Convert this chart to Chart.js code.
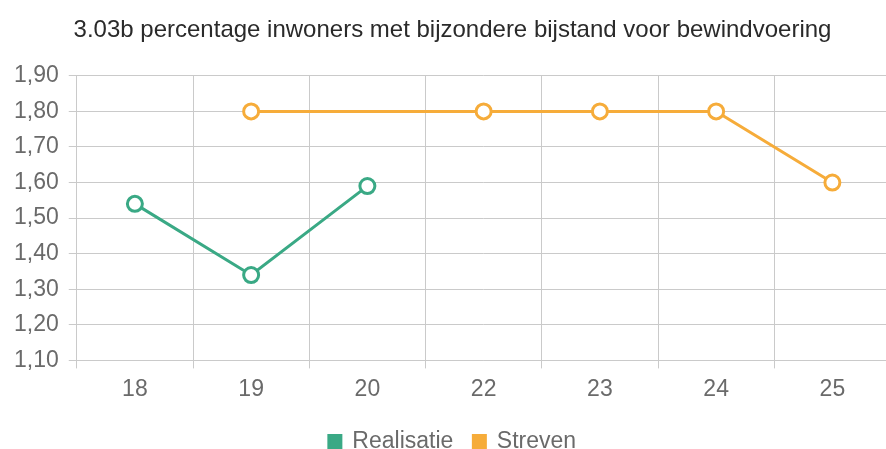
<!DOCTYPE html>
<html>
<head>
<meta charset="utf-8">
<script src="https://cdn.jsdelivr.net/npm/chart.js@4"></script>
<style>
  html, body { margin: 0; padding: 0; background: #fff; overflow: hidden; }
  #wrap { width: 901px; height: 463px; }
</style>
</head>
<body>
<div id="wrap"><canvas id="bijstandChart"></canvas></div>
<script>
/* ===============================
   DATA
================================ */
const years = ["18", "19", "20", "22", "23", "24", "25"];
const realisatie = [1.54, 1.34, 1.59, null, null, null, null];
const streven = [null, 1.80, null, 1.80, 1.80, 1.80, 1.60];
const yTicks = [1.10, 1.20, 1.30, 1.40, 1.50, 1.60, 1.70, 1.80, 1.90];

const GREEN = "#3aa985";
const ORANGE = "#f6ac3a";
const GRID = "#cacaca";

Chart.defaults.font.family = "'Liberation Sans', Arial, sans-serif";

function formatComma(v) {
  return Number(v).toFixed(2).replace(".", ",");
}

function lineDataset(label, data, color, span) {
  return {
    label: label,
    data: data,
    borderColor: color,
    backgroundColor: color,
    pointBackgroundColor: "#fff",
    pointBorderColor: color,
    pointRadius: 7.5,
    pointBorderWidth: 3,
    borderWidth: 3,
    tension: 0,
    spanGaps: span
  };
}

/* ===============================
   CHART
================================ */
const ctx = document.getElementById("bijstandChart").getContext("2d");

new Chart(ctx, {
  type: "line",
  data: {
    labels: years,
    datasets: [
      lineDataset("Realisatie", realisatie, GREEN, false),
      lineDataset("Streven", streven, ORANGE, true)
    ]
  },
  options: {
    responsive: true,
    maintainAspectRatio: false,
    animation: false,
    layout: { padding: { left: 4, right: 0, top: 0, bottom: 0 } },
    plugins: {
      title: {
        display: true,
        text: "3.03b percentage inwoners met bijzondere bijstand voor bewindvoering",
        color: "#2a2a2a",
        font: { size: 24, weight: "normal" },
        padding: { top: 16, bottom: 31 }
      },
      legend: {
        position: "bottom",
        labels: {
          color: "#6a6a6a",
          font: { size: 23 },
          boxWidth: 12,
          boxHeight: 12,
          padding: 20
        }
      },
      tooltip: { enabled: false }
    },
    scales: {
      x: {
        offset: true,
        grid: { offset: true, color: GRID, tickLength: 8 },
        border: { color: GRID },
        ticks: { color: "#6a6a6a", font: { size: 23 }, padding: 7 }
      },
      y: {
        min: yTicks[0],
        max: yTicks[yTicks.length - 1],
        afterBuildTicks: axis => {
          axis.ticks = yTicks.map(v => ({ value: v }));
        },
        grid: { color: GRID, tickLength: 8 },
        border: { color: GRID },
        ticks: {
          color: "#6a6a6a",
          font: { size: 23 },
          padding: 10,
          callback: v => formatComma(v)
        }
      }
    }
  }
});
</script>
</body>
</html>
